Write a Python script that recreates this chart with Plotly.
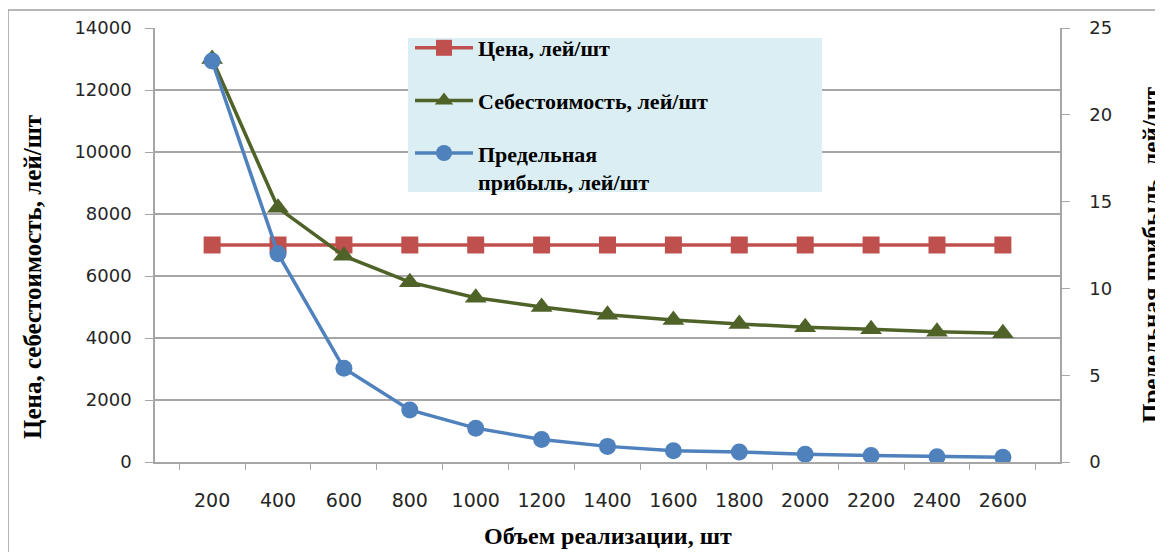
import plotly.graph_objects as go

categories = ["200", "400", "600", "800", "1000", "1200", "1400", "1600", "1800", "2000", "2200", "2400", "2600"]
price = [7000] * 13
cost = [13000, 8200, 6650, 5800, 5300, 5000, 4750, 4580, 4450, 4350, 4280, 4200, 4150]
marginal_profit = [23.1, 12.0, 5.4, 3.0, 1.95, 1.3, 0.9, 0.65, 0.58, 0.45, 0.38, 0.3, 0.27]

names = ["Цена, лей/шт", "Себестоимость, лей/шт", "Предельная<br>прибыль, лей/шт"]
left_title = "Цена, себестоимость, лей/шт"
right_title = "Предельная прибыль, лей/шт"
x_title = "Объем реализации, шт"

RED = "#C0504D"
GREEN = "#4F6228"
BLUE = "#4F81BD"
GRID = "#A6A6A6"

# the page body adds an 8px offset; work in reference pixels and shift
OFF = 8
FW, FH = 1163 - OFF, 552 - OFF
L, R, T, B = 155 - OFF, 1060 - OFF, 28 - OFF, 462 - OFF
W = R - L
H = B - T


def px(x):
    return (x - OFF - L) / W


def py(y):
    return (B - (y - OFF)) / H


fig = go.Figure()
fig.add_trace(go.Scatter(x=categories, y=price, name=names[0], mode="lines+markers",
                         line=dict(color=RED, width=3.5),
                         marker=dict(symbol="square", size=17, color=RED),
                         legendgroup="a"))
fig.add_trace(go.Scatter(x=categories, y=cost, name=names[1], mode="lines+markers",
                         line=dict(color=GREEN, width=3.5),
                         marker=dict(symbol="triangle-up", size=19, color=GREEN),
                         legendgroup="b"))
fig.add_trace(go.Scatter(x=categories, y=marginal_profit, name=names[2], mode="lines+markers",
                         line=dict(color=BLUE, width=3.5),
                         marker=dict(symbol="circle", size=17, color=BLUE),
                         legendgroup="c", yaxis="y2"))

tickfont = dict(family="DejaVu Sans, Verdana, sans-serif", size=18, color="#262626")
serif = "Liberation Serif, Times New Roman, serif"
titlefont = dict(family=serif, size=25, color="#000000", weight="bold")

fig.update_layout(
    width=FW, height=FH,
    margin=dict(l=L, r=FW - R, t=T, b=FH - B, autoexpand=False),
    paper_bgcolor="white", plot_bgcolor="white",
    showlegend=True,
    legend=dict(
        x=px(410), y=py(27), xanchor="left", yanchor="top",
        bgcolor="rgba(0,0,0,0)", borderwidth=0,
        font=dict(family=serif, size=22, color="#000000", weight="bold"),
        tracegroupgap=21, itemwidth=58, valign="top",
        traceorder="grouped",
    ),
    xaxis=dict(
        type="category", tickson="boundaries", ticks="outside", ticklen=6,
        tickcolor=GRID, showline=True, linecolor=GRID, linewidth=1.5,
        showgrid=False, zeroline=False,
        tickfont=dict(family="DejaVu Sans, Verdana, sans-serif", size=19, color="#262626"),
        ticklabelstandoff=20,
    ),
    yaxis=dict(
        range=[0, 14000], dtick=2000, tickformat="d", ticks="outside", ticklen=8, tickcolor=GRID,
        showline=True, linecolor=GRID, linewidth=1.5,
        showgrid=True, gridcolor=GRID, gridwidth=1.5, zeroline=False,
        tickfont=tickfont, ticklabelstandoff=10,
    ),
    yaxis2=dict(
        range=[0, 25], dtick=5, tickformat="d", overlaying="y", side="right",
        ticks="outside", ticklen=8, tickcolor=GRID,
        showline=True, linecolor=GRID, linewidth=1.5,
        showgrid=False, zeroline=False,
        tickfont=tickfont, ticklabelstandoff=16,
    ),
    annotations=[
        dict(text=left_title, xref="paper", yref="paper", x=px(32), y=py(277),
             textangle=-90, showarrow=False, font=titlefont, xanchor="center", yanchor="middle"),
        dict(text=right_title, xref="paper", yref="paper", x=px(1151), y=py(255),
             textangle=-90, showarrow=False, font=titlefont, xanchor="center", yanchor="middle"),
        dict(text=x_title, xref="paper", yref="paper", x=px(608), y=py(536),
             showarrow=False, font=dict(family=serif, size=24, color="#000000", weight="bold"),
             xanchor="center", yanchor="middle"),
    ],
    shapes=[
        dict(type="rect", xref="paper", yref="paper", x0=px(8), y0=py(640), x1=px(1250), y1=py(10),
             line=dict(color="#A0A0A0", width=1.5), fillcolor="rgba(0,0,0,0)", layer="below"),
        dict(type="rect", xref="paper", yref="paper", x0=px(408), y0=py(192), x1=px(822), y1=py(38),
             line=dict(width=0), fillcolor="#DAEEF3", layer="above"),
    ],
)

fig.write_html("out.html")
